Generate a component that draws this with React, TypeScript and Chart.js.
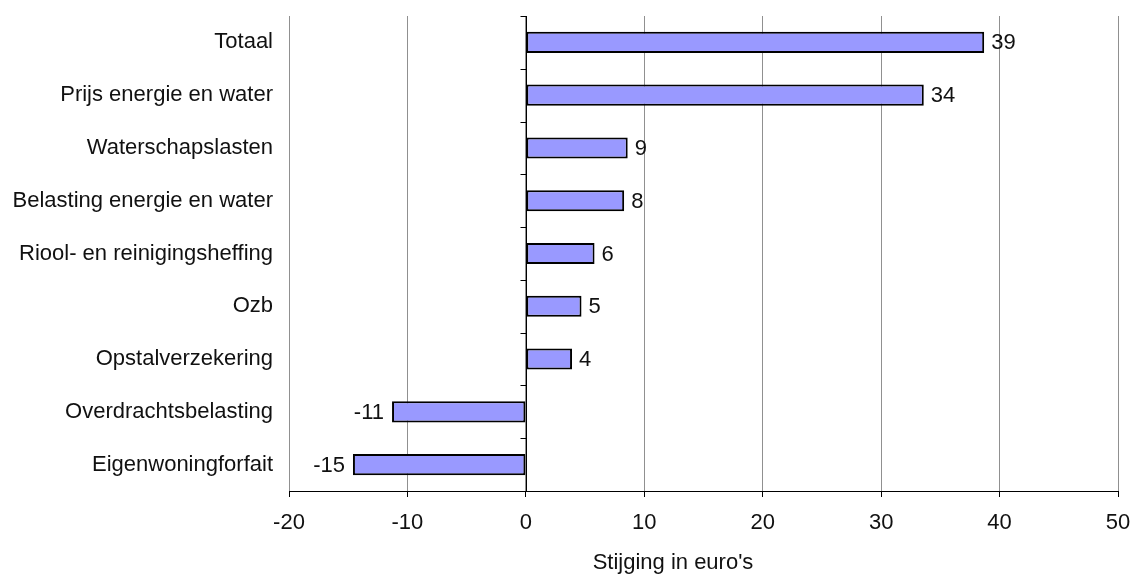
import React, { useEffect, useRef } from "react";
import { Chart, registerables } from "chart.js";

Chart.register(...registerables);

const categories = [
  "Totaal",
  "Prijs energie en water",
  "Waterschapslasten",
  "Belasting energie en water",
  "Riool- en reinigingsheffing",
  "Ozb",
  "Opstalverzekering",
  "Overdrachtsbelasting",
  "Eigenwoningforfait",
];
const values = [38.7, 33.6, 8.6, 8.3, 5.8, 4.7, 3.9, -11.3, -14.6];
const valueLabels = ["39", "34", "9", "8", "6", "5", "4", "-11", "-15"];
const xMin = -20;
const xMax = 50;
const xStep = 10;
const axisTitle = "Stijging in euro's";

const FONT = "'Liberation Sans', Arial, sans-serif";

export default function App() {
  const ref = useRef<HTMLCanvasElement | null>(null);
  useEffect(() => {
    if (!ref.current) return;
    const zeroAxis = {
      id: "zeroAxis",
      afterDatasetsDraw(chart: any) {
        const { ctx, scales } = chart;
        const x = Math.round(scales.x.getPixelForValue(0)) + 0.5;
        const y = scales.y;
        ctx.save();
        ctx.strokeStyle = "#000";
        ctx.lineWidth = 1;
        ctx.beginPath();
        ctx.moveTo(x, chart.chartArea.top);
        ctx.lineTo(x, chart.chartArea.bottom);
        for (let i = 0; i <= categories.length; i++) {
          const py = Math.round(y.getPixelForValue(i - 0.5)) + 0.5;
          ctx.moveTo(x - 6, py);
          ctx.lineTo(x, py);
        }
        ctx.stroke();
        // value labels
        ctx.fillStyle = "#111";
        ctx.font = `22px ${FONT}`;
        ctx.textBaseline = "middle";
        const meta = chart.getDatasetMeta(0);
        meta.data.forEach((bar: any, i: number) => {
          const v = values[i];
          if (v >= 0) {
            ctx.textAlign = "left";
            ctx.fillText(valueLabels[i], bar.x + 7, bar.y + 1);
          } else {
            ctx.textAlign = "right";
            ctx.fillText(valueLabels[i], bar.x - 8, bar.y + 1);
          }
        });
        // axis title
        ctx.textAlign = "center";
        ctx.textBaseline = "middle";
        ctx.fillText(axisTitle, 673, 563);
        ctx.restore();
      },
    };
    const chart = new Chart(ref.current, {
      type: "bar",
      data: {
        labels: categories,
        datasets: [
          {
            data: values,
            backgroundColor: "#9999ff",
            borderColor: "#000",
            borderWidth: 2,
            borderSkipped: false,
            barPercentage: 0.4,
            categoryPercentage: 1,
          },
        ],
      },
      options: {
        indexAxis: "y",
        animation: false,
        responsive: true,
        maintainAspectRatio: false,
        layout: { padding: { top: 16, right: 15, left: 0, bottom: 0 } },
        plugins: { legend: { display: false }, tooltip: { enabled: false } },
        scales: {
          x: {
            type: "linear",
            min: xMin,
            max: xMax,
            ticks: {
              stepSize: xStep,
              color: "#111",
              font: { family: FONT, size: 22 },
              padding: 13,
            },
            grid: {
              color: "#909090",
              tickColor: "#000",
              tickLength: 6,
              drawTicks: true,
            },
            border: { display: true, color: "#000" },
            afterFit(scale: any) {
              scale.height = 83;
              scale.paddingLeft = 0;
              scale.paddingRight = 0;
            },
          },
          y: {
            type: "category",
            offset: true,
            ticks: {
              color: "#111",
              font: { family: FONT, size: 22 },
              padding: 16,
            },
            grid: { display: false, drawTicks: false },
            border: { display: false },
            afterFit(scale: any) {
              scale.width = 289;
              scale.paddingTop = 0;
              scale.paddingBottom = 0;
            },
          },
        },
      },
      plugins: [zeroAxis],
    } as any);
    return () => chart.destroy();
  }, []);
  return (
    <div style={{ position: "absolute", left: 0, top: 0, width: 1133, height: 574, background: "#fff" }}>
      <canvas ref={ref} />
    </div>
  );
}
